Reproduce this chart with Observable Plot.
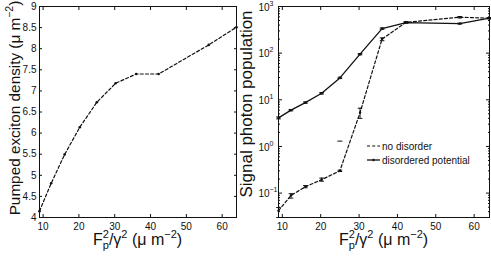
<!DOCTYPE html>
<html><head><meta charset="utf-8">
<script src="https://cdn.jsdelivr.net/npm/d3@7"></script>
<script src="https://cdn.jsdelivr.net/npm/@observablehq/plot@0.6"></script>
<style>
body{margin:0;background:#fff;}
#wrap{position:relative;width:491px;height:256px;overflow:hidden;background:#fff;}
#wrap svg{position:absolute;top:0;overflow:visible;background:transparent;}
</style></head><body><div id="wrap"></div>
<script>
// x = F_p^2/gamma^2 (um^-2)
const xValues = [9, 12.25, 16, 20.25, 25, 30.25, 36, 42.25, 56.25, 64];
// left panel: pumped exciton density
const excitonDensity = [4.15, 4.81, 5.49, 6.14, 6.73, 7.18, 7.40, 7.40, 8.09, 8.51];
// right panel: signal photon population
const noDisorder     = [0.042, 0.089, 0.137, 0.194, 0.30, 5.3, 201, 459, 589, 561];
const noDisorderLow  = [0.030, 0.078, 0.130, 0.180, 0.29, 4.0, 185, 445, 570, 545];
const noDisorderHigh = [0.049, 0.097, 0.145, 0.210, 0.31, 6.6, 212, 475, 610, 578];
const disordered     = [4.1, 6.0, 8.7, 13.8, 29.5, 95, 336, 452, 430, 561];
const disorderedLow  = [3.9, 5.8, 8.4, 13.3, 28.5, 92, 325, 440, 420, 548];
const disorderedHigh = [4.3, 6.2, 9.0, 14.3, 30.5, 98, 347, 465, 440, 575];
const strayCapX = [25];
const strayCapY = [1.3];
// ticks
const xTicks = [10, 20, 30, 40, 50, 60];
const leftYTicks = [4, 4.5, 5, 5.5, 6, 6.5, 7, 7.5, 8, 8.5, 9];
const logMajor = [0.1, 1, 10, 100, 1000];
const logExponents = ["\u22121", "0", "1", "2", "3"];
const legendLabels = ["no disorder", "disordered potential"];

const FONT = "'Liberation Sans', Arial, Helvetica, sans-serif";
const INK = "#111";

const leftRows = xValues.map((x, i) => ({x, y: excitonDensity[i]}));
const ndRows = xValues.map((x, i) => ({x, y: noDisorder[i], lo: noDisorderLow[i], hi: noDisorderHigh[i]}));
const dRows = xValues.map((x, i) => ({x, y: disordered[i], lo: disorderedLow[i], hi: disorderedHigh[i]}));
const strayRows = strayCapX.map((x, i) => ({x, y: strayCapY[i]}));
const minorTicks = [];
for (const m of [0.01, 0.1, 1, 10, 100]) for (let k = 2; k <= 9; k++) {
  const v = m * k; if (v >= 0.03 && v <= 1000) minorTicks.push(v);
}
const capSymbol = {draw(ctx, size) { const r = Math.sqrt(size / Math.PI); ctx.moveTo(-r, 0); ctx.lineTo(r, 0); }};

const wrap = document.getElementById("wrap");
const blank = () => "";

function xAxisMarks() {
  return [
    Plot.axisX(xTicks, {anchor: "bottom", tickSize: -3, tickFormat: blank, label: null, stroke: INK}),
    Plot.axisX(xTicks, {anchor: "top", tickSize: -3, tickFormat: blank, label: null, stroke: INK}),
    Plot.text(xTicks, {x: d => d, frameAnchor: "bottom", dy: 9, lineAnchor: "middle", text: d => String(d), fill: INK})
  ];
}

// ---------- left panel ----------
const left = Plot.plot({
  width: 245, height: 256,
  marginLeft: 39, marginRight: 9, marginTop: 6, marginBottom: 39,
  style: {fontFamily: FONT, fontSize: "10px", color: INK, background: "transparent"},
  x: {domain: [9, 64]},
  y: {domain: [4, 9]},
  marks: [
    ...xAxisMarks(),
    Plot.axisY(leftYTicks, {anchor: "left", tickSize: -3, tickPadding: 6, tickFormat: d => String(d), label: null, stroke: INK}),
    Plot.axisY(leftYTicks, {anchor: "right", tickSize: -3, tickFormat: blank, label: null, stroke: INK}),
    Plot.frame({stroke: INK, strokeWidth: 1}),
    Plot.line(leftRows, {x: "x", y: "y", stroke: INK, strokeWidth: 1.2, strokeDasharray: "3,2.2"}),
    Plot.dot(leftRows, {x: "x", y: "y", r: 1.3, fill: INK})
  ]
});
left.style.left = "0px";
wrap.appendChild(left);

// ---------- right panel ----------
const right = Plot.plot({
  width: 246, height: 256,
  marginLeft: 33, marginRight: 2, marginTop: 6, marginBottom: 39,
  style: {fontFamily: FONT, fontSize: "10px", color: INK, background: "transparent"},
  x: {domain: [9, 64]},
  y: {type: "log", domain: [0.03, 1000]},
  marks: [
    ...xAxisMarks(),
    Plot.axisY(logMajor, {anchor: "left", tickSize: -4, tickFormat: blank, label: null, stroke: INK}),
    Plot.axisY(minorTicks, {anchor: "left", tickSize: -2, tickFormat: blank, label: null, stroke: INK}),
    Plot.axisY(logMajor, {anchor: "right", tickSize: -4, tickFormat: blank, label: null, stroke: INK}),
    Plot.axisY(minorTicks, {anchor: "right", tickSize: -2, tickFormat: blank, label: null, stroke: INK}),
    Plot.text(logMajor, {y: d => d, frameAnchor: "left", text: () => "10", textAnchor: "end", dx: -9, dy: 1, fill: INK}),
    Plot.text(logMajor, {y: d => d, frameAnchor: "left", text: (d, i) => logExponents[i], textAnchor: "start", dx: -9, dy: -3, fontSize: 7, fill: INK}),
    Plot.frame({stroke: INK, strokeWidth: 1}),
    Plot.line(ndRows, {x: "x", y: "y", stroke: INK, strokeWidth: 1.2, strokeDasharray: "3,2.2"}),
    Plot.line(dRows, {x: "x", y: "y", stroke: INK, strokeWidth: 1.3}),
    Plot.ruleX(ndRows, {x: "x", y1: "lo", y2: "hi", stroke: INK, strokeWidth: 1}),
    Plot.ruleX(dRows, {x: "x", y1: "lo", y2: "hi", stroke: INK, strokeWidth: 1}),
    Plot.dot(ndRows, {x: "x", y: "lo", symbol: capSymbol, r: 2.3, stroke: INK, fill: "none", strokeWidth: 1}),
    Plot.dot(ndRows, {x: "x", y: "hi", symbol: capSymbol, r: 2.3, stroke: INK, fill: "none", strokeWidth: 1}),
    Plot.dot(dRows, {x: "x", y: "lo", symbol: capSymbol, r: 2.3, stroke: INK, fill: "none", strokeWidth: 1}),
    Plot.dot(dRows, {x: "x", y: "hi", symbol: capSymbol, r: 2.3, stroke: INK, fill: "none", strokeWidth: 1}),
    Plot.dot(strayRows, {x: "x", y: "y", symbol: capSymbol, r: 2.5, stroke: INK, fill: "none", strokeWidth: 1}),
    Plot.dot(ndRows, {x: "x", y: "y", r: 1.2, fill: INK}),
    Plot.dot(dRows, {x: "x", y: "y", r: 1.2, fill: INK})
  ]
});
right.style.left = "245px";
wrap.appendChild(right);

// ---------- labels (rich text with sub/superscripts) ----------
function xLabel(svg, cx) {
  const t = d3.select(svg).append("text")
    .attr("x", cx).attr("y", 245).attr("text-anchor", "middle")
    .attr("font-family", FONT).attr("font-size", 16).attr("fill", INK);
  t.append("tspan").text("F");
  t.append("tspan").attr("font-size", 11).attr("dy", 4).text("p");
  t.append("tspan").attr("font-size", 11).attr("dx", -6).attr("dy", -11).text("2");
  t.append("tspan").attr("dy", 7).text("/\u03b3");
  t.append("tspan").attr("font-size", 11).attr("dy", -7).text("2");
  t.append("tspan").attr("dy", 7).text(" (\u03bc m");
  t.append("tspan").attr("font-size", 11).attr("dy", -7).text("\u22122");
  t.append("tspan").attr("dy", 7).text(")");
}
xLabel(left, (39 + 236) / 2);
xLabel(right, (33 + 244) / 2);

const yl = d3.select(left).append("text")
  .attr("transform", "translate(20,108) rotate(-90)").attr("text-anchor", "middle")
  .attr("font-family", FONT).attr("font-size", 15.3).attr("fill", INK);
yl.append("tspan").text("Pumped exciton density (\u03bc m");
yl.append("tspan").attr("font-size", 10.5).attr("dy", -7).text("\u22122");
yl.append("tspan").attr("dy", 7).text(")");

d3.select(right).append("text")
  .attr("transform", "translate(7,104) rotate(-90)").attr("text-anchor", "middle")
  .attr("font-family", FONT).attr("font-size", 17).attr("fill", INK)
  .text("Signal photon population");

// ---------- legend ----------
const lg = d3.select(right).append("g").attr("font-family", FONT).attr("font-size", 10)
  .attr("fill", INK).attr("text-anchor", "start");
const legendY = [146, 160];
legendLabels.forEach((lab, i) => {
  const y = legendY[i];
  lg.append("line").attr("x1", 122).attr("x2", 135).attr("y1", y).attr("y2", y)
    .attr("stroke", INK).attr("stroke-width", i === 0 ? 1.2 : 1.3)
    .attr("stroke-dasharray", i === 0 ? "3,2.2" : null);
  if (i === 1) lg.append("circle").attr("cx", 128.5).attr("cy", y).attr("r", 1.2).attr("fill", INK);
  lg.append("text").attr("x", 137).attr("y", y).attr("dy", "0.35em").attr("text-anchor", "start").text(lab);
});
</script>
</body></html>
